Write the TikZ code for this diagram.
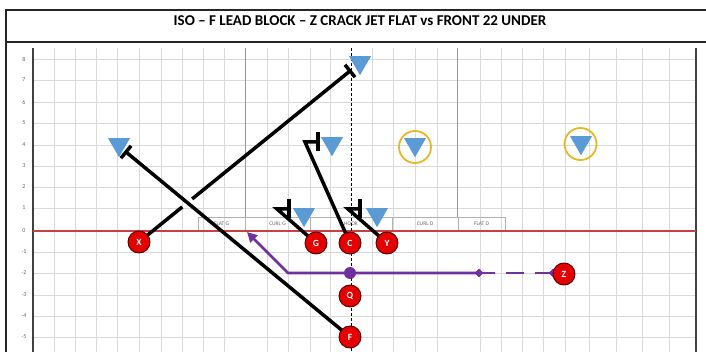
\documentclass[tikz,border=0pt]{standalone}
\usepackage{fontspec}
\setmainfont{Carlito}
\usetikzlibrary{arrows.meta,shapes.geometric,calc}
\definecolor{gridgray}{RGB}{218,218,218}
\definecolor{zonegray}{RGB}{150,150,150}
\definecolor{losred}{RGB}{200,65,65}
\definecolor{defblue}{RGB}{91,155,213}
\definecolor{ringyellow}{RGB}{228,184,40}
\definecolor{offred}{RGB}{228,0,0}
\definecolor{offdark}{RGB}{80,0,0}
\definecolor{jetpurple}{RGB}{112,48,160}
\begin{document}
\begin{tikzpicture}[x=1pt,y=-1pt,
  gridline/.style={draw=gridgray,line width=0.8pt},
  axisline/.style={draw=black!75,line width=1.2pt},
  zoneline/.style={draw=zonegray,line width=1pt},
  zonebox/.style={draw=black!30,line width=0.6pt,minimum height=14pt,inner sep=0pt,
    text=black!60,font=\fontsize{5.5}{6}\selectfont},
  axislabel/.style={text=black!60,font=\fontsize{6}{7}\selectfont,inner sep=0pt},
  defender/.style={regular polygon,regular polygon sides=3,shape border rotate=180,
    fill=defblue,minimum size=25.4pt,inner sep=0pt},
  ring/.style={circle,draw=ringyellow,line width=1.8pt,minimum size=32pt,inner sep=0pt},
  player/.style={circle,fill=offred,draw=offdark,line width=0.9pt,minimum size=22pt,
    inner sep=0pt,text=white,font=\bfseries\fontsize{9.5}{9.5}\selectfont},
  route/.style={draw=black,line width=3.5pt},
  jet/.style={draw=jetpurple,line width=2.8pt},
  jetdot/.style={circle,fill=jetpurple,minimum size=12pt,inner sep=0pt},
  jetdiamond/.style={diamond,fill=jetpurple,minimum size=9pt,inner sep=0pt},
  centerline/.style={draw=black,line width=0.8pt,dash pattern=on 3pt off 2pt}]
\useasboundingbox (0,0) rectangle (706,352);
\clip (0,0) rectangle (706,352);
% grid
\foreach \gx in {54,75,96,117,139,161,182,203,224,267,288,310,330,372,393,415,437,480,501,522,543,565,589,616,642,669}
  \draw[gridline] (\gx,48) -- (\gx,352);
\foreach \gy in {59,80,102,123,145,166,187,208,252,273,295,316,337}
  \draw[gridline] (33,\gy) -- (696,\gy);
% axis labels
\foreach \gy/\lab in {59/8,80/7,102/6,123/5,145/4,166/3,187/2,208/1,231/0,252/-1,273/-2,295/-3,316/-4,337/-5}
  \node[axislabel] (lab\lab) at (24,\gy) {\lab};
% axes and zone lines
\draw[axisline] (33,48) -- (33,352);
\draw[axisline] (696,48) -- (696,352);
\draw[zoneline] (245,48) -- (245,217);
\draw[zoneline] (457,48) -- (457,217);
% zone boxes
\node[zonebox,minimum width=47pt] (zfg) at (221.5,224) {FLAT G};
\node[zonebox,minimum width=65pt] (zcg) at (277.5,224) {CURL G};
\node[zonebox,minimum width=82pt] (zhk) at (351,224) {HOOK};
\node[zonebox,minimum width=66pt] (zcd) at (425,224) {CURL D};
\node[zonebox,minimum width=47pt] (zfd) at (481.5,224) {FLAT D};
% line of scrimmage
\draw[draw=losred,line width=1.6pt] (33,231) -- (696,231);
% center line
\draw[centerline] (351,48) -- (351,352);
% frame and title
\draw[line width=1.6pt,draw=black!85] (6,10) rectangle (715,400);
\draw[line width=1.6pt,draw=black!85] (6,42) -- (715,42);
\node[font=\bfseries\fontsize{15}{17}\selectfont] (title) at (360,21) {ISO – F LEAD BLOCK – Z CRACK JET FLAT vs FRONT 22 UNDER};
% route end coordinates
\coordinate (ex) at (350,71);
\coordinate (ef) at (126,152);
\coordinate (eg) at (277,209);
\coordinate (ec) at (305,142);
\coordinate (ey) at (348,209);
\coordinate (jturn) at (288,273);
\coordinate (jtip) at (247,232);
% players positions
\coordinate (px) at (139,242);
\coordinate (pg) at (316,243);
\coordinate (pc) at (350,243);
\coordinate (py) at (387,243);
\coordinate (pq) at (350,296);
\coordinate (pf) at (350,337);
\coordinate (pz) at (564,274);
% jet motion
\node[jetdot] (jd) at (350,273) {};
\node[jetdiamond] (jdm1) at (479,273) {};
\node[jetdiamond] (jdm2) at (553,273) {};
\draw[jet,dash pattern=on 18pt off 11pt] (jdm2.center) -- (jdm1.center);
\draw[jet,-{Triangle[length=10pt,width=10pt]}] (jdm1.center) -- (jd.center) -- (jturn) -- (jtip);
% routes
\draw[route] (px) -- ($(px)!0.205!(ex)$);
\draw[route] ($(px)!0.252!(ex)$) -- (ex);
\draw[route] ($(ex)!8pt!90:(px)$) -- ($(ex)!8pt!-90:(px)$);
\draw[route] (pf) -- (ef);
\draw[route] ($(ef)!8pt!90:(pf)$) -- ($(ef)!8pt!-90:(pf)$);
\draw[route] (pg) -- (eg) -- ++(12,0);
\draw[route] ($(eg)+(12,-9.5)$) -- ($(eg)+(12,9.5)$);
\draw[route] (pc) -- (ec) -- ++(13,0);
\draw[route] ($(ec)+(13,-9.5)$) -- ($(ec)+(13,9.5)$);
\draw[route] (py) -- (ey) -- ++(12,0);
\draw[route] ($(ey)+(12,-9.5)$) -- ($(ey)+(12,9.5)$);
% defenders
\node[ring] (r1) at (415,147) {};
\node[ring] (r2) at (580.5,144) {};
\node[defender] (d1) at (119,144.5) {};
\node[defender] (d2) at (360,62.5) {};
\node[defender] (d3) at (332,143.5) {};
\node[defender] (d4) at (304,214.5) {};
\node[defender] (d5) at (377,214.5) {};
\node[defender] (d6) at (415,144.5) {};
\node[defender] (d7) at (581,142.5) {};
% offense
\node[player] (X) at (px) {X};
\node[player] (G) at (pg) {G};
\node[player] (C) at (pc) {C};
\node[player] (Y) at (py) {Y};
\node[player] (Q) at (pq) {Q};
\node[player] (F) at (pf) {F};
\node[player] (Z) at (pz) {Z};
\end{tikzpicture}
\end{document}
